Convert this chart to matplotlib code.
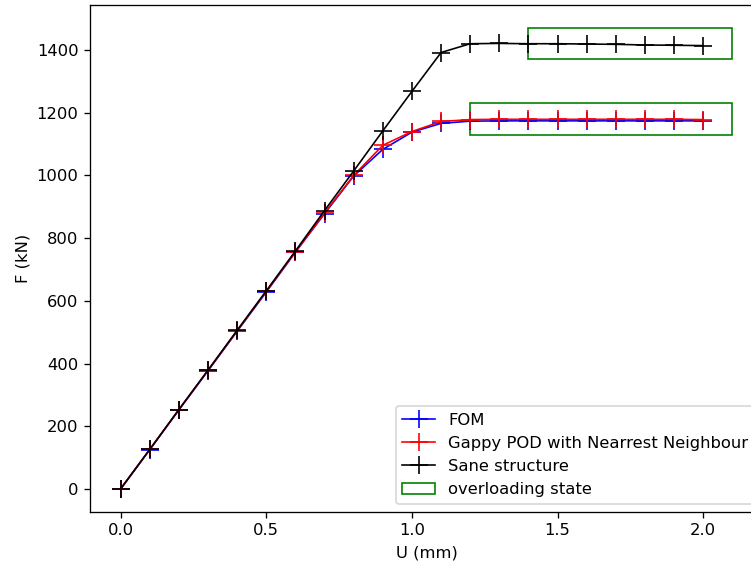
import matplotlib
matplotlib.use("Agg")
import matplotlib.pyplot as plt
from matplotlib.patches import Rectangle

u = [0.0, 0.1, 0.2, 0.3, 0.4, 0.5, 0.6, 0.7, 0.8, 0.9, 1.0,
     1.1, 1.2, 1.3, 1.4, 1.5, 1.6, 1.7, 1.8, 1.9, 2.0]
fom = [0, 125, 252, 377, 503, 628, 755, 878, 998, 1083, 1138,
       1166, 1173, 1174, 1174, 1174, 1174, 1174, 1174, 1174, 1174]
gappy = [0, 126, 253, 378, 504, 630, 756, 880, 1000, 1096, 1140,
         1172, 1178, 1179, 1179, 1179, 1179, 1179, 1179, 1179, 1178]
sane = [0, 126, 253, 379, 506, 632, 759, 888, 1014, 1142, 1268,
        1392, 1420, 1421, 1420, 1420, 1419, 1418, 1416, 1415, 1414]

rect_x = [1.4, 1.2]
rect_y = [1370, 1130]
rect_w = [0.7, 0.9]
rect_h = [100, 100]

DPI = 118
fig = plt.figure(figsize=(751 / DPI, 564 / DPI), dpi=DPI)
ax = fig.add_axes([90/751, 1 - 512/564, (763 - 90)/751, (512 - 5)/564])

ax.plot(u, fom, color="blue", marker="+", markersize=11, linewidth=1, label="FOM")
ax.plot(u, gappy, color="red", marker="+", markersize=11, linewidth=1,
        label="Gappy POD with Nearrest Neighbour")
ax.plot(u, sane, color="black", marker="+", markersize=11, linewidth=1,
        label="Sane structure")
for i in range(len(rect_x)):
    ax.add_patch(Rectangle((rect_x[i], rect_y[i]), rect_w[i], rect_h[i],
                           fill=False, edgecolor="green", linewidth=1,
                           label="overloading state" if i == 0 else None))

ax.set_xlim(-0.105, 2.205)
ax.set_ylim(-73.5, 1543.5)
ax.set_xticks([0.0, 0.5, 1.0, 1.5, 2.0])
ax.set_xlabel("U (mm)")
ax.set_ylabel("F (kN)")
ax.legend(loc="lower right")

fig.savefig("out.png", dpi=DPI)
